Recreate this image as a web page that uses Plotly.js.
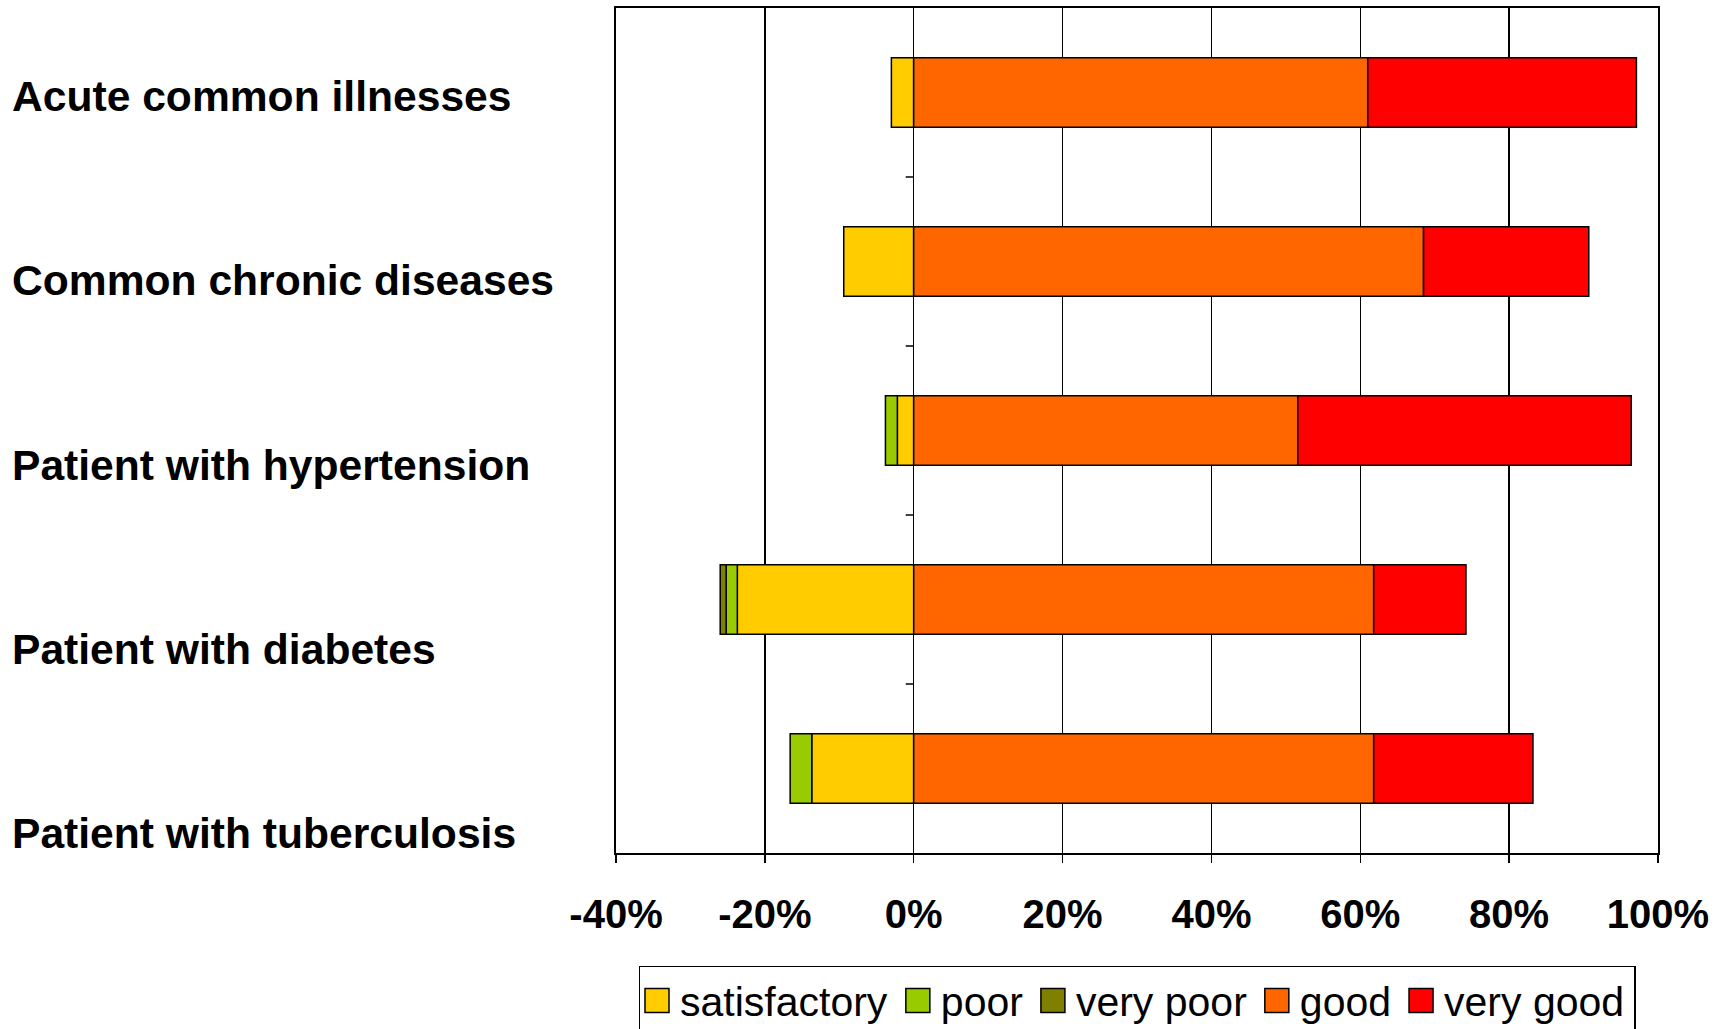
<!DOCTYPE html>
<html>
<head>
<meta charset="utf-8">
<script src="https://cdn.plot.ly/plotly-3.0.1.min.js"></script>
<style>
  html, body { margin: 0; padding: 0; background: #ffffff; }
  #chart { width: 1732px; height: 1029px; }
</style>
</head>
<body>
<div id="chart"></div>
<script>
// ---- data (percent of respondents) ----
const categories = [
  "Acute common illnesses",
  "Common chronic diseases",
  "Patient with hypertension",
  "Patient with diabetes",
  "Patient with tuberculosis"
];
const satisfactory = [-3.0, -9.4, -2.2, -23.7, -13.7];
const poor         = [0, 0, -1.6, -1.5, -2.9];
const veryPoor     = [0, 0, 0, -0.8, 0];
const good         = [61.0, 68.5, 51.6, 61.8, 61.8];
const veryGood     = [36.1, 22.2, 44.8, 12.4, 21.4];

const tickValues = [-40, -20, 0, 20, 40, 60, 80, 100];
const tickLabels = ["-40%", "-20%", "0%", "20%", "40%", "60%", "80%", "100%"];

const seriesNames  = ["satisfactory", "poor", "very poor", "good", "very good"];
const seriesValues = [satisfactory, poor, veryPoor, good, veryGood];
const seriesColors = ["#FFCC00", "#99CC00", "#808000", "#FF6600", "#FF0000"];

// ---- traces ----
const idx = categories.map((c, i) => i);
const traces = seriesNames.map((name, k) => ({
  type: "bar",
  orientation: "h",
  name: name,
  y: idx,
  x: seriesValues[k],
  marker: { color: seriesColors[k], line: { color: "#000000", width: 1.5 } },
  hoverinfo: "skip"
}));

// category labels (placed at left, like the original figure)
const annotations = categories.map((c, i) => ({
  text: c,
  xref: "paper", yref: "paper",
  x: -0.5811, y: 0.8959 - i * 0.2182,
  xanchor: "left", yanchor: "middle",
  showarrow: false,
  font: { family: "Liberation Sans, Arial, sans-serif", size: 42.6, color: "#000000", weight: "bold" }
}));

// small tick marks on the vertical axis at 0 between categories
const shapes = idx.slice(0, -1).map(i => ({
  type: "line",
  xref: "x", xsizemode: "pixel", xanchor: 0,
  x0: -8, x1: 0,
  yref: "y", y0: i + 0.5, y1: i + 0.5,
  line: { color: "#000000", width: 1.5 }
}));

const layout = {
  width: 1732, height: 1029,
  margin: { l: 616, r: 74, t: 8, b: 176, pad: 0, autoexpand: false },
  paper_bgcolor: "#ffffff", plot_bgcolor: "#ffffff",
  barmode: "relative",
  bargap: 0.59,
  showlegend: true,
  font: { family: "Liberation Sans, Arial, sans-serif", color: "#000000" },
  xaxis: {
    range: [-40, 100],
    tickmode: "array", tickvals: tickValues, ticktext: tickLabels,
    tickfont: { family: "Liberation Sans, Arial, sans-serif", size: 40, color: "#000000", weight: "bold" },
    ticks: "outside", ticklen: 8, tickwidth: 1.5, tickcolor: "#000000",
    ticklabelstandoff: 17,
    showgrid: true, gridcolor: "#000000", gridwidth: 1.5,
    zeroline: true, zerolinecolor: "#000000", zerolinewidth: 1.5,
    showline: true, linecolor: "#000000", linewidth: 2, mirror: true,
    fixedrange: true
  },
  yaxis: {
    type: "linear",
    range: [4.5, -0.5],
    showticklabels: false,
    showgrid: false, zeroline: false,
    ticks: "",
    showline: true, linecolor: "#000000", linewidth: 2, mirror: true,
    fixedrange: true
  },
  legend: {
    orientation: "h",
    x: 0.5, xanchor: "center",
    y: -0.1335, yanchor: "top",
    bordercolor: "#000000", borderwidth: 1.5,
    bgcolor: "#ffffff",
    traceorder: "normal",
    font: { family: "Liberation Sans, Arial, sans-serif", size: 41, color: "#000000" },
    itemclick: false, itemdoubleclick: false
  },
  annotations: annotations,
  shapes: shapes
};

function parseTranslate(t) {
  const m = /translate\(\s*([-\d.e]+)[ ,]+([-\d.e]+)\s*\)/.exec(t || "");
  return m ? [parseFloat(m[1]), parseFloat(m[2])] : [0, 0];
}

Plotly.newPlot("chart", traces, layout, { displayModeBar: false, staticPlot: true }).then(gd => {
  // enlarge the legend swatches to match the original's bigger squares
  gd.querySelectorAll(".legend .legendpoints path").forEach(p => {
    const t = p.getAttribute("transform") || "";
    p.setAttribute("transform", (t + " translate(-3,0) scale(2)").trim());
    p.style.strokeWidth = "0.75px";
  });
  // a little more room between legend entries, as in the original
  const extra = 8;
  const items = gd.querySelectorAll(".legend .traces");
  items.forEach((g, i) => {
    const [x, y] = parseTranslate(g.getAttribute("transform"));
    g.setAttribute("transform", `translate(${x + i * extra},${y})`);
  });
  const grow = extra * (items.length - 1) + 4;
  const bg = gd.querySelector(".legend .bg");
  if (bg) bg.setAttribute("width", parseFloat(bg.getAttribute("width")) + grow);
  const leg = gd.querySelector(".legend");
  if (leg) {
    const [lx, ly] = parseTranslate(leg.getAttribute("transform"));
    leg.setAttribute("transform", `translate(${lx - grow / 2},${ly})`);
  }
  const sb = gd.querySelector(".legend .scrollbox");
  if (sb) sb.removeAttribute("clip-path");
});
</script>
</body>
</html>
